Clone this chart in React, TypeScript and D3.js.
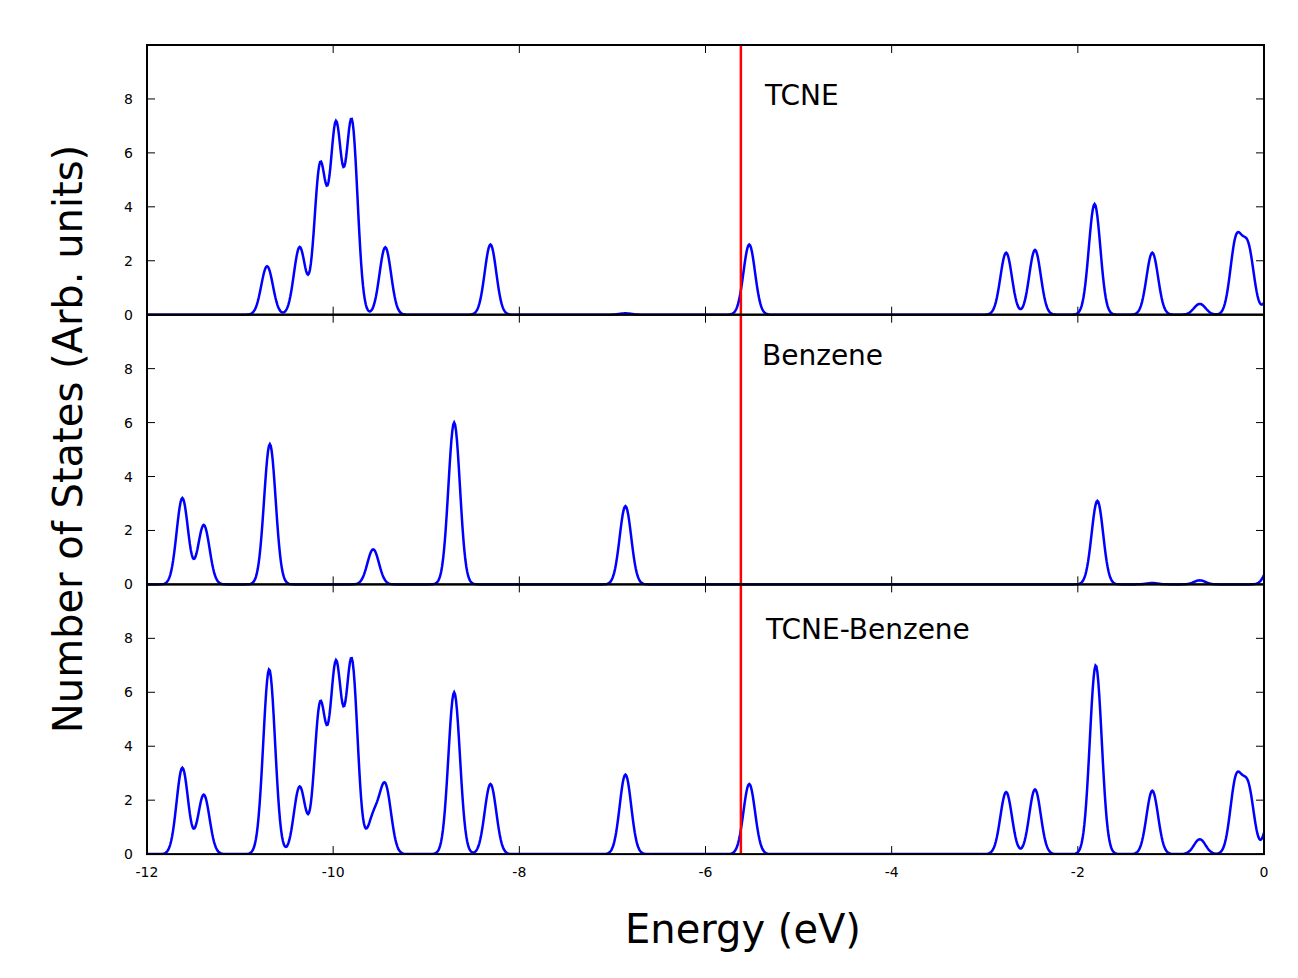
import * as d3 from "d3";

// peak centres (eV) and heights; DOS drawn as Gaussian-broadened levels
const tcneCenters = [-10.71, -10.36, -10.14, -9.97, -9.8, -9.44, -8.31, -6.86, -5.53, -2.77, -2.46, -1.82, -1.2, -0.69, -0.3, -0.17, 0.08];
const tcneHeights = [1.8, 2.5, 5.5, 6.9, 7.1, 2.5, 2.6, 0.05, 2.6, 2.3, 2.4, 4.1, 2.3, 0.4, 2.7, 2.4, 0.9];
const benzCenters = [-11.62, -11.39, -10.68, -9.57, -8.7, -6.86, -1.79, -1.2, -0.69, 0.08];
const benzHeights = [3.2, 2.2, 5.2, 1.3, 6.0, 2.9, 3.1, 0.05, 0.15, 0.8];
const panelTitles = ["TCNE", "Benzene", "TCNE-Benzene"];
const fermiLevel = -5.62;
const xTicks = [-12, -10, -8, -6, -4, -2, 0];
const yTicks = [0, 2, 4, 6, 8];
const SIGMA = 0.062;

const W = 1298, H = 978;
const left = 147, right = 1264, top = 45, panelH = 269.7;
const titleX = [765, 762, 766];
const titleDy = [60, 50, 55];

function dos(centers: number[], heights: number[]) {
  const pts: [number, number][] = [];
  for (let i = 0; i <= 1200; i++) {
    const e = -12 + i * 0.01;
    let v = 0;
    centers.forEach((c, k) => {
      v += heights[k] * Math.exp(-((e - c) ** 2) / (2 * SIGMA * SIGMA));
    });
    pts.push([e, v]);
  }
  return pts;
}

export default function App() {
  const x = d3.scaleLinear().domain([-12, 0]).range([left, right]);
  const tcne = dos(tcneCenters, tcneHeights);
  const benz = dos(benzCenters, benzHeights);
  const both = tcne.map((p, i) => [p[0], p[1] + benz[i][1]] as [number, number]);
  const series = [tcne, benz, both];
  const font = "DejaVu Sans, sans-serif";

  return (
    <svg width={W} height={H} style={{ position: "absolute", left: 0, top: 0, background: "#fff" }} fontFamily={font}>
      <defs>
        <clipPath id="plot">
          <rect x={left} y={top} width={right - left} height={panelH * 3} />
        </clipPath>
      </defs>
      {series.map((data, p) => {
        const y0 = top + panelH * p;
        const y = d3.scaleLinear().domain([0, 10]).range([y0 + panelH, y0]);
        const line = d3.line<[number, number]>().x((d) => x(d[0])).y((d) => y(Math.min(d[1], 10)));
        return (
          <g key={p}>
            {yTicks.map((t) => (
              <g key={t}>
                <line x1={left} x2={left + 8} y1={y(t)} y2={y(t)} stroke="#000" />
                <line x1={right} x2={right - 8} y1={y(t)} y2={y(t)} stroke="#000" />
                <text x={left - 14} y={y(t) + 5} fontSize={14} textAnchor="end">{t}</text>
              </g>
            ))}
            {xTicks.map((t) => (
              <g key={t}>
                <line x1={x(t)} x2={x(t)} y1={y0 + panelH} y2={y0 + panelH - 8} stroke="#000" />
                <line x1={x(t)} x2={x(t)} y1={y0} y2={y0 + 8} stroke="#000" />
              </g>
            ))}
            <path d={line(data) ?? ""} fill="none" stroke="#0000ff" strokeWidth={2.5} clipPath="url(#plot)" />
            <text x={titleX[p]} y={y0 + titleDy[p]} fontSize={28}>{panelTitles[p]}</text>
          </g>
        );
      })}
      <line x1={x(fermiLevel)} x2={x(fermiLevel)} y1={top} y2={top + panelH * 3} stroke="#ff0000" strokeWidth={2.5} />
      {[0, 1, 2].map((p) => (
        <rect key={p} x={left} y={top + panelH * p} width={right - left} height={panelH} fill="none" stroke="#000" strokeWidth={2} />
      ))}
      {xTicks.map((t) => (
        <text key={t} x={x(t)} y={877} fontSize={14} textAnchor="middle">{t}</text>
      ))}
      <text x={743} y={943} fontSize={40} textAnchor="middle">Energy (eV)</text>
      <text transform="translate(82,439) rotate(-90)" fontSize={40} textAnchor="middle">Number of States (Arb. units)</text>
    </svg>
  );
}
